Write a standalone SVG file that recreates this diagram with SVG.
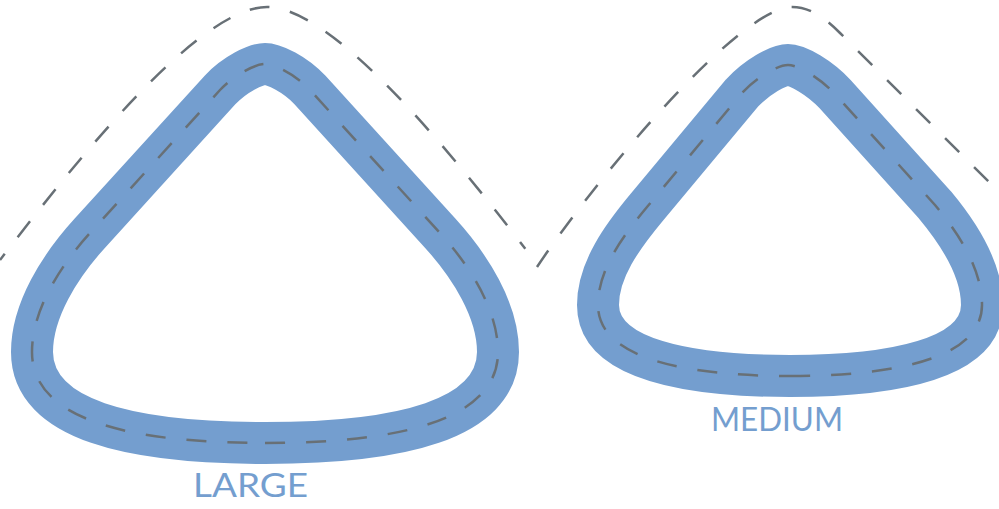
<svg xmlns="http://www.w3.org/2000/svg" width="999" height="509" viewBox="0 0 999 509">
  <style>
    .band { fill: none; stroke: #749ECF; stroke-width: 42; stroke-linejoin: round; }
    .dash { fill: none; stroke: #687076; stroke-width: 2.5; stroke-dasharray: 20 21; }
    .label { font-family: Lato, "Open Sans", "Liberation Sans", sans-serif; font-size: 32px; fill: #749ECF; text-anchor: middle; }
  </style>
  <rect width="999" height="509" fill="#ffffff"/>
  <g id="large">
    <path class="band" d="M265,443 C400,443 498,420 498,352 C498,310 470,266 440,233 L310,90 C295,74 274,64 265,64 C256,64 235,74 220,90 L90,233 C60,266 32,310 32,352 C32,420 130,443 265,443 Z"/>
    <path class="dash" d="M265,443 C400,443 498,420 498,352 C498,310 470,266 440,233 L310,90 C295,74 274,64 265,64 C256,64 235,74 220,90 L90,233 C60,266 32,310 32,352 C32,420 130,443 265,443 Z"/>
    <path class="dash" stroke-dashoffset="12" d="M0,260 C70,169 197,7 267,7 C334.2,7 453.9,156.3 525.3,248.7"/>
    <text class="label" x="250.5" y="497" textLength="115" lengthAdjust="spacingAndGlyphs">LARGE</text>
  </g>
  <g id="medium">
    <path class="band" d="M790,376 C890,376 982,360 982,305 C982,270 960,235 935,205 L835,94 C820,78 798,65 788,65 C778,65 757,77 742,93 L647,207 C622,237 598,270 598,305 C598,360 690,376 790,376 Z"/>
    <path class="dash" d="M790,376 C890,376 982,360 982,305 C982,270 960,235 935,205 L835,94 C820,78 798,65 788,65 C778,65 757,77 742,93 L647,207 C622,237 598,270 598,305 C598,360 690,376 790,376 Z"/>
    <path class="dash" d="M537,267 C597,177 740,7 792,7 C810,7 825,18 840,33 L1010,203"/>
    <text class="label" x="777" y="431" textLength="132" lengthAdjust="spacingAndGlyphs">MEDIUM</text>
  </g>
</svg>
